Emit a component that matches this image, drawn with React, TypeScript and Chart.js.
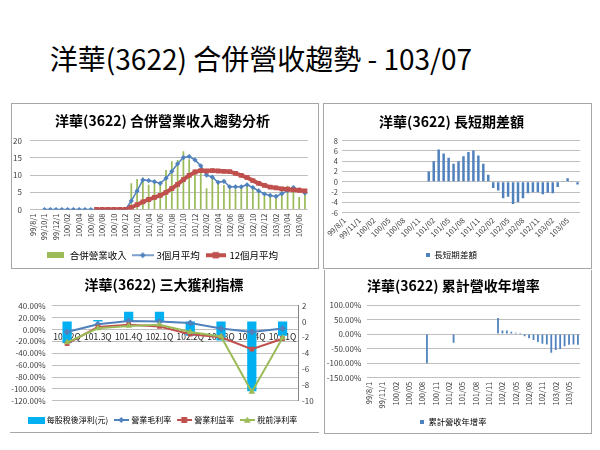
import React, { useEffect, useRef } from 'react';
import { Chart, registerables } from 'chart.js';

Chart.register(...registerables);

const FONT = '"Noto Sans CJK TC", "Noto Sans", sans-serif';
const BLUE = '#4F81BD';
const RED = '#C0504D';
const GREEN = '#9BBB59';
const CYAN = '#00B0F0';
const GRID = '#BFBFBF';
const TICK = '#404040';

// ---------- data ----------
const months = [
  '99/8/1', '99/9/1', '99/10/1', '99/11/1', '99/12/1',
  '100/01', '100/02', '100/03', '100/04', '100/05', '100/06', '100/07', '100/08', '100/09', '100/10', '100/11', '100/12',
  '101/01', '101/02', '101/03', '101/04', '101/05', '101/06', '101/07', '101/08', '101/09', '101/10', '101/11', '101/12',
  '102/01', '102/02', '102/03', '102/04', '102/05', '102/06', '102/07', '102/08', '102/09', '102/10', '102/11', '102/12',
  '103/01', '103/02', '103/03', '103/04', '103/05', '103/06', '103/07',
];

const revenue = [
  0, 0, 0, 0, 0, 0, 0, 0, 0, 0, 0, 0, 0, 0, 0, 0, 0,
  7.6, 8.9, 9.3, 7.2, 8.0, 7.8, 11.5, 14.0, 14.4, 16.9, 14.6, 11.7,
  12.1, 6.2, 9.9, 7.6, 7.1, 6.0, 5.9, 6.7, 6.9, 6.4, 4.9, 3.9,
  4.4, 3.9, 5.4, 6.9, 6.4, 3.6, 5.4,
];

const avg3 = [
  null, null, 0, 0, 0, 0, 0, 0, 0, 0, 0, 0, 0, 0, 0, 0, 0,
  2.5, 5.4, 8.6, 8.4, 8.1, 7.6, 9.1, 11.1, 13.3, 15.1, 15.4, 14.4,
  12.7, 10.0, 9.4, 7.9, 8.2, 6.6, 6.6, 6.6, 7.2, 6.4, 5.4, 4.5,
  4.1, 3.8, 4.6, 5.5, 6.4, 5.7, 4.8,
];

const avg12 = [
  null, null, null, null, null, null, null, null, null, null, null, 0, 0, 0, 0, 0, 0,
  0.6, 1.4, 2.2, 2.9, 3.5, 4.1, 5.0, 6.1, 7.3, 8.7, 9.9, 10.9,
  11.3, 11.2, 11.3, 11.2, 11.1, 11.0, 10.5, 9.9, 9.3, 8.4, 7.6, 7.0,
  6.5, 6.3, 6.0, 5.9, 5.7, 5.6, 5.4,
];

const spread = [
  null, null, null, null, null, null, null, null, null, null, null, 0, 0, 0, 0, 0, 0,
  2.0, 4.0, 6.3, 5.5, 4.7, 3.5, 4.0, 5.0, 5.8, 6.1, 5.1, 3.5,
  1.4, -1.2, -1.7, -3.2, -2.9, -4.3, -3.9, -3.2, -2.2, -2.0, -2.0, -2.4,
  -2.1, -2.2, -1.0, 0.05, 0.7, 0.15, -0.5,
];

const ytdGrowth = [
  null, null, null, null, null, null, null, null, null, null, null, null, null, -100, null, null, null,
  null, null, -30, null, null, null, null, null, null, null, null, null,
  55, 12, 12, 8, 5, 0.5, -7, -14, -20, -27, -33, -36,
  -64, -55, -51, -42, -37, -36, -37,
];

const quarters = ['101.2Q', '101.3Q', '101.4Q', '102.1Q', '102.2Q', '102.3Q', '102.4Q', '103.1Q'];
const eps = [-2.7, 0.2, 1.25, 1.25, -1.8, -2.4, -8.8, -1.8];
const grossMargin = [-4.4, 8.9, 14.4, 13.3, 11.0, 1.7, -4.4, 1.7];
const opMargin = [-24, 4, 8, 5, -8, -13, -33, -15.5];
const pretaxMargin = [-21.7, 2, 6, 8, -4.4, -11.7, -105, -14];

// ---------- legend icons ----------
function lineIcon(color: string, marker: string, w: number, lw: number, ms: number) {
  const c = document.createElement('canvas');
  c.width = w;
  c.height = 12;
  const g = c.getContext('2d')!;
  g.strokeStyle = color;
  g.lineWidth = lw;
  g.beginPath();
  g.moveTo(0, 6);
  g.lineTo(w, 6);
  g.stroke();
  g.fillStyle = color;
  const cx = w / 2;
  const cy = 6;
  g.beginPath();
  if (marker === 'diamond') {
    g.moveTo(cx, cy - ms);
    g.lineTo(cx + ms, cy);
    g.lineTo(cx, cy + ms);
    g.lineTo(cx - ms, cy);
  } else if (marker === 'square') {
    g.rect(cx - ms, cy - ms, 2 * ms, 2 * ms);
  } else {
    g.moveTo(cx, cy - ms);
    g.lineTo(cx + ms, cy + ms * 0.8);
    g.lineTo(cx - ms, cy + ms * 0.8);
  }
  g.closePath();
  g.fill();
  return c;
}

function boxIcon(color: string, w: number, h: number) {
  const c = document.createElement('canvas');
  c.width = w;
  c.height = h;
  const g = c.getContext('2d')!;
  g.fillStyle = color;
  g.fillRect(0, 0, w, h);
  return c;
}

function legend(size: number, icons: any[], iconW: number, pad: number, extraTop = 0) {
  return {
    position: 'bottom',
    title: { display: extraTop > 0, text: '', font: { size: 1 }, padding: { top: 0, bottom: extraTop } },
    labels: {
      font: { family: FONT, size },
      color: '#000',
      usePointStyle: true,
      pointStyleWidth: iconW,
      boxHeight: size,
      padding: pad,
      sort: (a: any, b: any) => a.datasetIndex - b.datasetIndex,
      generateLabels: (chart: any) => {
        const items = (Chart.defaults.plugins.legend.labels as any).generateLabels(chart);
        return items.map((it: any) => ({ ...it, pointStyle: icons[it.datasetIndex] }));
      },
    },
  };
}

function title(text: string, top: number, bottom: number) {
  return {
    display: true,
    text,
    color: '#000',
    font: { family: FONT, size: 14, weight: 'bold' },
    padding: { top, bottom },
  };
}

const tickFont = (size: number) => ({ family: FONT, size });

// ---------- chart configs ----------
function makeRevenue(): any {
  return {
    type: 'bar',
    data: {
      labels: months,
      datasets: [
        { type: 'bar', label: '合併營業收入', data: revenue, backgroundColor: GREEN, barPercentage: 0.3, categoryPercentage: 1, order: 2 },
        {
          type: 'line', label: '3個月平均', data: avg3, borderColor: BLUE, backgroundColor: BLUE, borderWidth: 1.5,
          pointStyle: 'rectRot', pointRadius: 2.6, pointBorderWidth: 0, order: 1,
        },
        {
          type: 'line', label: '12個月平均', data: avg12, borderColor: RED, backgroundColor: RED, borderWidth: 4,
          pointStyle: 'rect', pointRadius: 3.4, pointBorderWidth: 0, order: 0,
        },
      ],
    },
    options: {
      animation: false,
      responsive: false,
      layout: { padding: { left: 0, right: 3, top: 0, bottom: -2 } },
      plugins: {
        title: title('洋華(3622) 合併營業收入趨勢分析', 9.4, 11.5),
        legend: legend(9.5, [boxIcon(GREEN, 17, 6), lineIcon(BLUE, 'diamond', 22, 1.5, 3), lineIcon(RED, 'square', 20, 4, 3.2)], 18, 7),
        tooltip: { enabled: false },
      },
      scales: {
        x: {
          grid: { display: false, drawTicks: false },
          border: { display: false },
          ticks: {
            autoSkip: false, maxRotation: 90, minRotation: 90, padding: 4, color: TICK, font: tickFont(7.5),
            callback: (_v: any, i: number) => (i % 2 === 0 ? months[i] : ''),
          },
          afterFit: (s: any) => { s.height = 34; },
        },
        y: {
          min: 0, max: 20,
          ticks: { stepSize: 5, autoSkip: false, padding: 8, color: TICK, font: tickFont(8) },
          grid: { color: GRID, drawTicks: false },
          border: { display: false },
          afterFit: (s: any) => { s.width = 20; },
        },
      },
    },
  };
}

function makeSpread(): any {
  return {
    type: 'bar',
    data: {
      labels: months,
      datasets: [
        { label: '長短期差額', data: spread, backgroundColor: BLUE, barPercentage: 0.5, categoryPercentage: 1 },
      ],
    },
    options: {
      animation: false,
      responsive: false,
      layout: { padding: { left: 0, right: 11, top: 0, bottom: -1.25 } },
      plugins: {
        title: title('洋華(3622) 長短期差額', 9.9, 11),
        legend: legend(8.5, [boxIcon(BLUE, 4, 4)], 4, 7),
        tooltip: { enabled: false },
      },
      scales: {
        x: {
          grid: { display: false, drawTicks: false },
          border: { display: false },
          ticks: {
            autoSkip: false, maxRotation: 45, minRotation: 45, padding: 3, color: TICK, font: tickFont(7.5),
            callback: (_v: any, i: number) => (i % 3 === 0 ? months[i] : ''),
          },
          afterFit: (s: any) => { s.height = 31; },
        },
        y: {
          min: -6, max: 8,
          ticks: { stepSize: 2, autoSkip: false, padding: 4, color: TICK, font: tickFont(7.5) },
          grid: { color: GRID, drawTicks: false },
          border: { display: false },
          afterFit: (s: any) => { s.width = 19; },
        },
      },
    },
  };
}

function makeProfit(): any {
  return {
    type: 'bar',
    data: {
      labels: quarters,
      datasets: [
        { type: 'bar', label: '每股稅後淨利(元)', data: eps, yAxisID: 'y1', backgroundColor: CYAN, barPercentage: 0.3, categoryPercentage: 1, order: 3 },
        {
          type: 'line', label: '營業毛利率', data: grossMargin, yAxisID: 'y', borderColor: BLUE, backgroundColor: BLUE, borderWidth: 2,
          pointStyle: 'rectRot', pointRadius: 3.5, pointBorderWidth: 0, order: 2,
        },
        {
          type: 'line', label: '營業利益率', data: opMargin, yAxisID: 'y', borderColor: RED, backgroundColor: RED, borderWidth: 2,
          pointStyle: 'rect', pointRadius: 3.3, pointBorderWidth: 0, order: 1,
        },
        {
          type: 'line', label: '稅前淨利率', data: pretaxMargin, yAxisID: 'y', borderColor: GREEN, backgroundColor: GREEN, borderWidth: 2,
          pointStyle: 'triangle', pointRadius: 3.8, pointBorderWidth: 0, order: 0,
        },
      ],
    },
    options: {
      animation: false,
      responsive: false,
      layout: { padding: { left: 0, right: 0, top: 0, bottom: -1 } },
      plugins: {
        title: title('洋華(3622) 三大獲利指標', 6.6, 12.3),
        legend: legend(8, [boxIcon(CYAN, 17, 7), lineIcon(BLUE, 'diamond', 15, 2, 3), lineIcon(RED, 'square', 15, 2, 3), lineIcon(GREEN, 'triangle', 15, 2, 3.5)], 12, 7, 7),
        tooltip: { enabled: false },
      },
      scales: {
        x: {
          position: { y: 0 },
          grid: { display: false, drawTicks: false },
          border: { display: false },
          ticks: { autoSkip: false, maxRotation: 0, minRotation: 0, padding: 2, color: '#262626', font: tickFont(8.5) },
        },
        y: {
          position: 'left',
          min: -120, max: 40,
          ticks: { stepSize: 20, autoSkip: false, padding: 6, color: TICK, font: tickFont(8), callback: (v: any) => `${Number(v).toFixed(2)}%` },
          grid: { color: GRID, drawTicks: false },
          border: { display: false },
          afterFit: (s: any) => { s.width = 41.7; },
        },
        y1: {
          position: 'right',
          min: -10, max: 2,
          ticks: { stepSize: 2, autoSkip: false, padding: 4, color: TICK, font: tickFont(8) },
          grid: { display: false, drawTicks: false },
          border: { display: true, color: '#868686' },
          afterFit: (s: any) => { s.width = 20; },
        },
      },
    },
  };
}

function makeGrowth(): any {
  return {
    type: 'bar',
    data: {
      labels: months,
      datasets: [
        { label: '累計營收年增率', data: ytdGrowth, backgroundColor: BLUE, barPercentage: 0.4, categoryPercentage: 1 },
      ],
    },
    options: {
      animation: false,
      responsive: false,
      layout: { padding: { left: 0, right: 7.3, top: 0, bottom: -2.85 } },
      plugins: {
        title: title('洋華(3622) 累計營收年增率', 7, 11.2),
        legend: legend(8.3, [boxIcon(BLUE, 4, 4)], 4, 7),
        tooltip: { enabled: false },
      },
      scales: {
        x: {
          grid: { display: false, drawTicks: false },
          border: { display: false },
          ticks: {
            autoSkip: false, maxRotation: 90, minRotation: 90, padding: 4, color: TICK, font: tickFont(7.5),
            callback: (_v: any, i: number) => (i % 3 === 0 ? months[i] : ''),
          },
          afterFit: (s: any) => { s.height = 32.8; },
        },
        y: {
          min: -150, max: 100,
          ticks: { stepSize: 50, autoSkip: false, padding: 5.7, color: TICK, font: tickFont(8), callback: (v: any) => `${Number(v).toFixed(2)}%` },
          grid: { color: GRID, drawTicks: false },
          border: { display: false },
          afterFit: (s: any) => { s.width = 44; },
        },
      },
    },
  };
}

function ChartCanvas(props: { left: number; top: number; width: number; height: number; make: () => any }) {
  const ref = useRef<HTMLCanvasElement>(null);
  useEffect(() => {
    const chart = new Chart(ref.current as HTMLCanvasElement, props.make());
    return () => chart.destroy();
  }, []);
  return (
    <canvas
      ref={ref}
      width={props.width}
      height={props.height}
      style={{ position: 'absolute', left: props.left, top: props.top, width: props.width, height: props.height }}
    />
  );
}

const BORDER = '1px solid #A6A6A6';

export default function App() {
  return (
    <div style={{ position: 'absolute', left: 0, top: 0, width: 600, height: 450, background: '#fff', overflow: 'hidden' }}>
      <div
        style={{
          position: 'absolute', left: 0, top: 44, width: 522, height: 28, lineHeight: '28px', textAlign: 'center',
          fontFamily: FONT, fontSize: 28, color: '#000', whiteSpace: 'nowrap',
        }}
      >
        洋華(3622) 合併營收趨勢 - 103/07
      </div>
      <ChartCanvas left={10} top={103} width={308} height={165} make={makeRevenue} />
      <ChartCanvas left={323} top={103} width={268} height={165} make={makeSpread} />
      <ChartCanvas left={10} top={270} width={308} height={163} make={makeProfit} />
      <ChartCanvas left={323} top={270} width={268} height={163} make={makeGrowth} />
      <div style={{ position: 'absolute', left: 11, top: 103, width: 308, height: 166, border: BORDER, boxSizing: 'border-box', pointerEvents: 'none' }} />
      <div style={{ position: 'absolute', left: 323, top: 103, width: 269, height: 166, border: BORDER, boxSizing: 'border-box', pointerEvents: 'none' }} />
      <div style={{ position: 'absolute', left: 10, top: 432, width: 309, height: 1, borderTop: BORDER, pointerEvents: 'none' }} />
      <div style={{ position: 'absolute', left: 324, top: 270, width: 268, height: 164, borderLeft: BORDER, borderRight: BORDER, borderBottom: BORDER, boxSizing: 'border-box', pointerEvents: 'none' }} />
    </div>
  );
}
